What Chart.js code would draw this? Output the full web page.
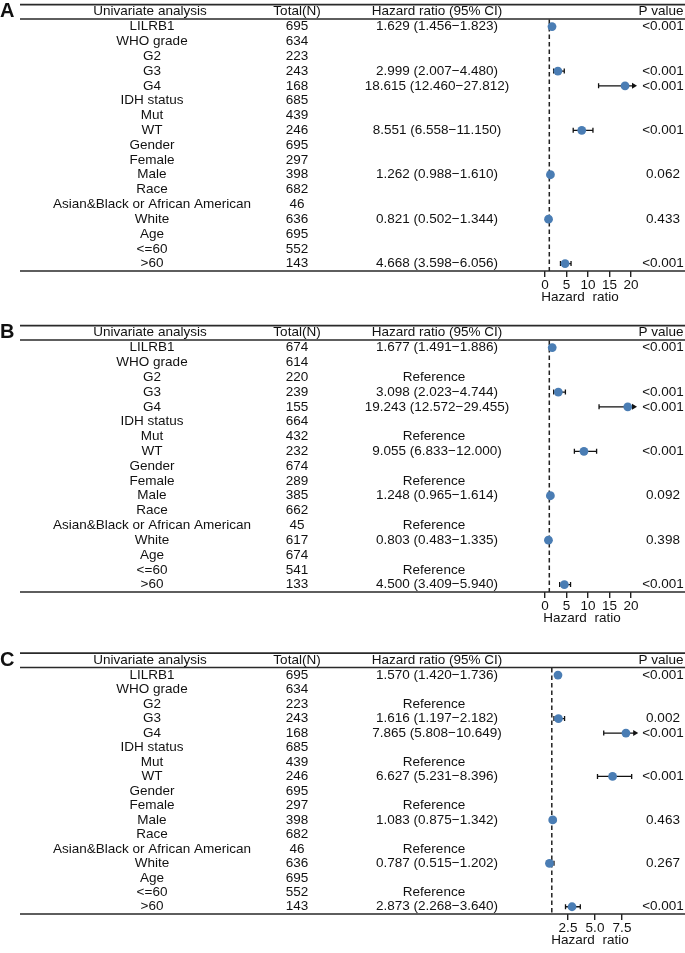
<!DOCTYPE html>
<html>
<head>
<meta charset="utf-8">
<script src="https://cdn.jsdelivr.net/npm/chart.js@4.4.1/dist/chart.umd.min.js"></script>
<style>
  html, body { margin: 0; padding: 0; background: #fff; overflow: hidden; }
  body { width: 685px; height: 953px; position: relative; }
  canvas { position: absolute; left: 0; }
</style>
</head>
<body>
<canvas id="panel-a" width="685" height="311" style="top:0px"></canvas>
<canvas id="panel-b" width="685" height="311" style="top:321px"></canvas>
<canvas id="panel-c" width="685" height="305" style="top:649px"></canvas>
<script>
// row labels shared by all three panels
const rowLabels = [
  "LILRB1", "WHO grade", "G2", "G3", "G4", "IDH status", "Mut", "WT",
  "Gender", "Female", "Male", "Race", "Asian&Black or African American",
  "White", "Age", "<=60", ">60"
];
const refRows = [2, 6, 9, 12, 15];

// panel A
const totalA = [695, 634, 223, 243, 168, 685, 439, 246, 695, 297, 398, 682, 46, 636, 695, 552, 143];
const hrA  = [1.629, null, null, 2.999, 18.615, null, null, 8.551, null, null, 1.262, null, null, 0.821, null, null, 4.668];
const lowA = [1.456, null, null, 2.007, 12.460, null, null, 6.558, null, null, 0.988, null, null, 0.502, null, null, 3.598];
const upA  = [1.823, null, null, 4.480, 27.812, null, null, 11.150, null, null, 1.610, null, null, 1.344, null, null, 6.056];
const pA = ["<0.001", "", "", "<0.001", "<0.001", "", "", "<0.001", "", "", "0.062", "", "", "0.433", "", "", "<0.001"];

// panel B
const totalB = [674, 614, 220, 239, 155, 664, 432, 232, 674, 289, 385, 662, 45, 617, 674, 541, 133];
const hrB  = [1.677, null, null, 3.098, 19.243, null, null, 9.055, null, null, 1.248, null, null, 0.803, null, null, 4.500];
const lowB = [1.491, null, null, 2.023, 12.572, null, null, 6.833, null, null, 0.965, null, null, 0.483, null, null, 3.409];
const upB  = [1.886, null, null, 4.744, 29.455, null, null, 12.000, null, null, 1.614, null, null, 1.335, null, null, 5.940];
const pB = ["<0.001", "", "", "<0.001", "<0.001", "", "", "<0.001", "", "", "0.092", "", "", "0.398", "", "", "<0.001"];

// panel C
const totalC = [695, 634, 223, 243, 168, 685, 439, 246, 695, 297, 398, 682, 46, 636, 695, 552, 143];
const hrC  = [1.570, null, null, 1.616, 7.865, null, null, 6.627, null, null, 1.083, null, null, 0.787, null, null, 2.873];
const lowC = [1.420, null, null, 1.197, 5.808, null, null, 5.231, null, null, 0.875, null, null, 0.515, null, null, 2.268];
const upC  = [1.736, null, null, 2.182, 10.649, null, null, 8.396, null, null, 1.342, null, null, 1.202, null, null, 3.640];
const pC = ["<0.001", "", "", "0.002", "<0.001", "", "", "<0.001", "", "", "0.463", "", "", "0.267", "", "", "<0.001"];

// axis ticks
const ticksAB = [0, 5, 10, 15, 20];
const ticksC = [2.5, 5, 7.5];

const FONT = '"Liberation Sans", Arial, sans-serif';
const INK = "#111";
const DOT = "#4a7db4";

function hrText(hr, lo, up) {
  return `${hr.toFixed(3)} (${lo.toFixed(3)}\u2212${up.toFixed(3)})`;
}

// draws table text, rules, reference line and error bars
const forestTable = {
  id: "forestTable",
  beforeDatasetsDraw(chart, args, opts) {
    const { ctx, chartArea } = chart;
    const xs = chart.scales.x;
    const ys = chart.scales.y;
    const y0 = ys.getPixelForValue(0);
    const L = 20, R = 685;

    ctx.save();
    // rules
    ctx.strokeStyle = "#2a2a2a";
    ctx.lineWidth = 1.7;
    ctx.beginPath();
    ctx.moveTo(L, y0 - 22); ctx.lineTo(R, y0 - 22);
    ctx.stroke();
    ctx.lineWidth = 1.5;
    ctx.beginPath();
    ctx.moveTo(L, y0 - 7.7); ctx.lineTo(R, y0 - 7.7);
    ctx.moveTo(L, chartArea.bottom); ctx.lineTo(R, chartArea.bottom);
    ctx.stroke();

    // panel letter
    ctx.fillStyle = INK;
    ctx.textBaseline = "middle";
    ctx.textAlign = "left";
    ctx.font = `bold 20px ${FONT}`;
    ctx.fillText(opts.letter, 0, y0 - 15);

    // header
    ctx.font = `13.5px ${FONT}`;
    ctx.textAlign = "center";
    const hy = y0 - 15;
    ctx.fillText("Univariate analysis", 150, hy);
    ctx.fillText("Total(N)", 297, hy);
    ctx.fillText("Hazard ratio (95% CI)", 437, hy);
    ctx.fillText("P value", 661, hy);

    // rows
    rowLabels.forEach((lab, i) => {
      const y = ys.getPixelForValue(i);
      ctx.fillText(lab, 152, y);
      ctx.fillText(String(opts.total[i]), 297, y);
      if (opts.hr[i] != null) {
        ctx.fillText(hrText(opts.hr[i], opts.low[i], opts.up[i]), 437, y);
      } else if (opts.showRef && refRows.includes(i)) {
        ctx.fillText("Reference", 434, y);
      }
      if (opts.p[i]) ctx.fillText(opts.p[i], 663, y);
    });

    // axis title
    ctx.fillText("Hazard  ratio", opts.titleX, chartArea.bottom + 26);

    // dashed reference line at HR = 1
    const x1 = xs.getPixelForValue(1);
    ctx.strokeStyle = "#222";
    ctx.lineWidth = 1.5;
    ctx.setLineDash([4.5, 3]);
    ctx.beginPath();
    ctx.moveTo(x1, y0 - 7);
    ctx.lineTo(x1, chartArea.bottom);
    ctx.stroke();
    ctx.setLineDash([]);

    // confidence intervals
    ctx.strokeStyle = "#111";
    ctx.fillStyle = "#111";
    ctx.lineWidth = 1.3;
    opts.hr.forEach((v, i) => {
      if (v == null) return;
      const y = ys.getPixelForValue(i);
      const xl = xs.getPixelForValue(opts.low[i]);
      const capped = opts.up[i] > opts.cap;
      const xr = xs.getPixelForValue(capped ? opts.cap : opts.up[i]);
      ctx.beginPath();
      ctx.moveTo(xl, y); ctx.lineTo(capped ? xr - 4 : xr, y);
      ctx.moveTo(xl, y - 2.5); ctx.lineTo(xl, y + 2.5);
      if (!capped) { ctx.moveTo(xr, y - 2.5); ctx.lineTo(xr, y + 2.5); }
      ctx.stroke();
      if (capped) {
        ctx.beginPath();
        ctx.moveTo(xr, y);
        ctx.lineTo(xr - 5, y - 3);
        ctx.lineTo(xr - 5, y + 3);
        ctx.closePath();
        ctx.fill();
      }
    });
    ctx.restore();
  }
};

function makePanel(id, p) {
  const points = p.hr
    .map((v, i) => (v == null ? null : { x: v, y: i }))
    .filter(Boolean);

  return new Chart(document.getElementById(id), {
    type: "scatter",
    data: {
      datasets: [{
        data: points,
        backgroundColor: DOT,
        borderWidth: 0,
        pointRadius: 4.4,
        clip: false
      }]
    },
    options: {
      responsive: false,
      animation: false,
      events: [],
      layout: { padding: { left: p.left, right: 685 - p.right, top: 1.5, bottom: 0 } },
      plugins: {
        legend: { display: false },
        tooltip: { enabled: false },
        forestTable: p
      },
      scales: {
        x: {
          type: "linear",
          min: p.min,
          max: p.max,
          afterBuildTicks: (s) => { s.ticks = p.ticks.map((v) => ({ value: v })); },
          afterFit: (s) => { s.height = 40; },
          ticks: {
            autoSkip: false,
            maxRotation: 0,
            padding: 0,
            color: INK,
            font: { family: FONT, size: 13.5 },
            callback: p.fmt
          },
          grid: { drawOnChartArea: false, drawTicks: true, tickLength: 6, tickColor: "#222", lineWidth: 1.4 },
          border: { display: false }
        },
        y: { type: "linear", reverse: true, min: -1.5, max: 16.5, display: false }
      }
    },
    plugins: [forestTable]
  });
}

makePanel("panel-a", {
  letter: "A", total: totalA, hr: hrA, low: lowA, up: upA, p: pA, showRef: false,
  left: 545, right: 631, min: 0, max: 20, cap: 21.4, ticks: ticksAB,
  fmt: (v) => String(v), titleX: 580
});
makePanel("panel-b", {
  letter: "B", total: totalB, hr: hrB, low: lowB, up: upB, p: pB, showRef: true,
  left: 545, right: 631, min: 0, max: 20, cap: 21.4, ticks: ticksAB,
  fmt: (v) => String(v), titleX: 582
});
makePanel("panel-c", {
  letter: "C", total: totalC, hr: hrC, low: lowC, up: upC, p: pC, showRef: true,
  left: 541, right: 649, min: 0, max: 10, cap: 9.0, ticks: ticksC,
  fmt: (v) => v.toFixed(1), titleX: 590
});
</script>
</body>
</html>
